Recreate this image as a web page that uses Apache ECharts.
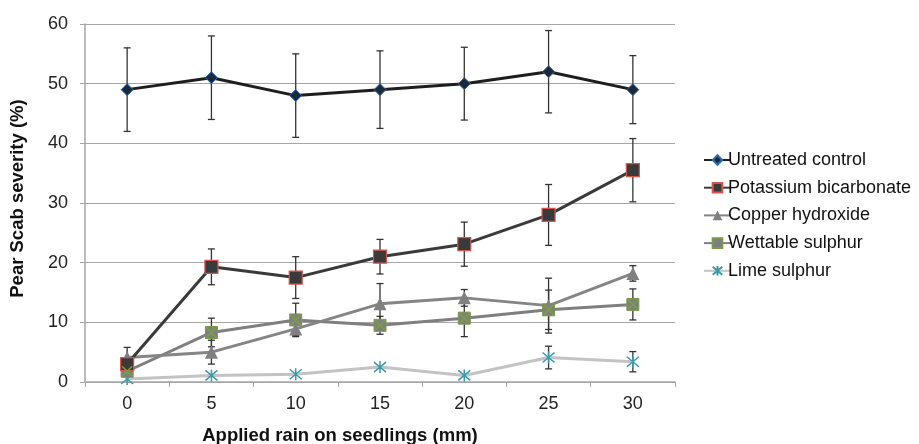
<!DOCTYPE html>
<html>
<head>
<meta charset="utf-8">
<script src="https://cdn.jsdelivr.net/npm/echarts@6/dist/echarts.min.js"></script>
<style>html,body{margin:0;padding:0;background:#fff}#c{width:919px;height:444px}</style>
</head>
<body>
<div id="c"></div>
<script>
const categories = ['0','5','10','15','20','25','30'];
const yTicks = [0,10,20,30,40,50,60];

const untreated = [49, 51, 48, 49, 50, 52, 49];
const untreatedErr = [7, 7, 7, 6.5, 6.1, 6.9, 5.7];
const potassium = [3, 19.3, 17.5, 21, 23.1, 28, 35.5];
const potassiumErr = [0.5, 3, 3.5, 2.9, 3.7, 5.1, 5.3];
const copper = [4.1, 5, 8.9, 13.1, 14.1, 12.8, 18.2];
const copperErr = [1.7, 2, 1.1, 3.4, 1.4, 4.6, 1.3];
const wettable = [1.8, 8.3, 10.4, 9.5, 10.7, 12.1, 13];
const wettableErr = [0.4, 2.4, 2.8, 1.5, 3.1, 3.3, 2.6];
const lime = [0.5, 1.1, 1.3, 2.5, 1.1, 4.1, 3.4];
const limeErr = [0, 0, 0, 0, 0, 1.9, 1.7];

const seriesNames = ['Untreated control','Potassium bicarbonate','Copper hydroxide','Wettable sulphur','Lime sulphur'];

const chart = echarts.init(document.getElementById('c'), null, {renderer:'canvas'});

function errSeries(vals, errs, name) {
  return {
    type: 'custom', name: name + ' err', z: 1, silent: true,
    data: vals.map((v,i) => [i, v, errs[i]]),
    renderItem: function (params, api) {
      const i = api.value(0), v = api.value(1), e = api.value(2);
      if (!e) return null;
      const top = api.coord([i, v + e]);
      const bot = api.coord([i, v - e]);
      const w = 3.5;
      const st = {stroke: '#333', lineWidth: 1.3};
      return {type: 'group', children: [
        {type: 'line', shape: {x1: top[0], y1: top[1], x2: bot[0], y2: bot[1]}, style: st},
        {type: 'line', shape: {x1: top[0]-w, y1: top[1], x2: top[0]+w, y2: top[1]}, style: st},
        {type: 'line', shape: {x1: bot[0]-w, y1: bot[1], x2: bot[0]+w, y2: bot[1]}, style: st}
      ]};
    }
  };
}

const xPath = 'path://M0,0L10,10M10,0L0,10';
const starPath = 'path://M0,0L10,10M10,0L0,10M5,-1L5,11';

const option = {
  animation: false,
  backgroundColor: '#fff',
  textStyle: {fontFamily: 'Liberation Sans, Arial, sans-serif'},
  grid: {left: 85, right: 244, top: 24, bottom: 62, containLabel: false, outerBoundsMode: 'none'},
  legend: {
    orient: 'vertical', left: 698, top: 146,
    itemWidth: 27, itemHeight: 12, itemGap: 9.7,
    textStyle: {fontSize: 18, color: '#111', fontFamily: 'Liberation Sans, Arial, sans-serif', padding: [0,0,0,-8]},
    data: seriesNames
  },
  xAxis: {
    type: 'category', data: categories, boundaryGap: true,
    name: 'Applied rain on seedlings (mm)', nameLocation: 'middle', nameGap: 44,
    nameTextStyle: {fontSize: 18.5, fontWeight: 'bold', color: '#111', padding: [0, 80, 0, 0]},
    axisLine: {lineStyle: {color: '#a6a6a6', width: 1.5}},
    axisTick: {show: true, alignWithLabel: false, length: 5, lineStyle: {color: '#a6a6a6'}},
    axisLabel: {fontSize: 18, color: '#222', margin: 13}
  },
  yAxis: {
    type: 'value', min: yTicks[0], max: yTicks[yTicks.length-1], interval: 10,
    name: 'Pear Scab severity (%)', nameLocation: 'middle', nameGap: 58, nameRotate: 90,
    nameTextStyle: {fontSize: 18.5, fontWeight: 'bold', color: '#111', padding: [0, 0, 0, 9]},
    axisLine: {show: true, lineStyle: {color: '#a6a6a6', width: 1.5}},
    axisTick: {show: true, length: 5, lineStyle: {color: '#a6a6a6'}},
    axisLabel: {fontSize: 18, color: '#222', margin: 17},
    splitLine: {lineStyle: {color: '#a6a6a6', width: 1}}
  },
  series: [
    errSeries(untreated, untreatedErr, 'u'),
    errSeries(potassium, potassiumErr, 'p'),
    errSeries(copper, copperErr, 'c'),
    errSeries(wettable, wettableErr, 'w'),
    errSeries(lime, limeErr, 'l'),
    {
      name: seriesNames[4], type: 'line', data: lime, z: 3,
      lineStyle: {color: '#c3c3c3', width: 3},
      symbol: starPath, symbolSize: 12,
      itemStyle: {color: '#3a9aa8', borderColor: '#3a9aa8', borderWidth: 1.5}
    },
    {
      name: seriesNames[3], type: 'line', data: wettable, z: 3,
      lineStyle: {color: '#7f7f7f', width: 3},
      symbol: 'rect', symbolSize: 12,
      itemStyle: {color: '#7f7f7f', borderColor: '#7a9a45', borderWidth: 1}
    },
    {
      name: 'wx', type: 'line', data: wettable, z: 4, silent: true,
      lineStyle: {width: 0, opacity: 0},
      symbol: xPath, symbolSize: 10,
      itemStyle: {color: 'none', borderColor: '#77a33c', borderWidth: 1.5}
    },
    {
      name: seriesNames[2], type: 'line', data: copper, z: 3,
      lineStyle: {color: '#858585', width: 3},
      symbol: 'triangle', symbolSize: 13,
      itemStyle: {color: '#808080', borderColor: '#808080', borderWidth: 0}
    },
    {
      name: seriesNames[1], type: 'line', data: potassium, z: 3,
      lineStyle: {color: '#3a3a3a', width: 3},
      symbol: 'rect', symbolSize: 13,
      itemStyle: {color: '#3a3a3a', borderColor: '#d9534f', borderWidth: 1.2}
    },
    {
      name: seriesNames[0], type: 'line', data: untreated, z: 3,
      lineStyle: {color: '#1e1e1e', width: 3},
      symbol: 'diamond', symbolSize: 12,
      itemStyle: {color: '#1b2a3a', borderColor: '#2e6db4', borderWidth: 1}
    }
  ]
};
chart.setOption(option);
</script>
</body>
</html>
